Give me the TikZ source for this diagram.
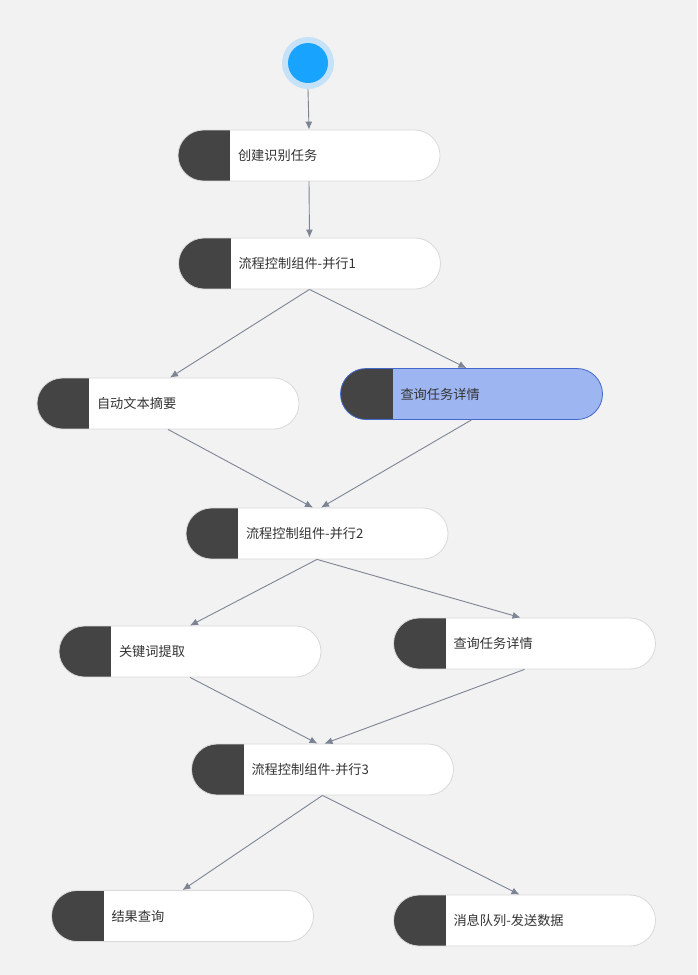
\documentclass[tikz,border=0pt]{standalone}
\usepackage{fontspec}
\newfontfamily\cjk{Noto Sans CJK SC}
\usetikzlibrary{arrows.meta}
\definecolor{bgc}{HTML}{F2F2F2}
\definecolor{darkc}{HTML}{444444}
\definecolor{borderc}{HTML}{D9D9D9}
\definecolor{edgec}{HTML}{7D8494}
\definecolor{bluefill}{HTML}{9DB5F0}
\definecolor{blueborder}{HTML}{4468CC}
\definecolor{startout}{HTML}{C6E2F8}
\definecolor{startin}{HTML}{18A3FF}
\definecolor{textc}{HTML}{333333}
\tikzset{
  stepbox/.style={draw=borderc, line width=0.8pt, fill=white, rounded corners=25.5pt,
    minimum width=262pt, minimum height=51pt, text width=142pt, align=left,
    inner xsep=0pt, inner ysep=0pt, text=textc,
    font=\cjk\fontsize{13.2}{15}\selectfont,
    path picture={\fill[darkc, sharp corners] (path picture bounding box.south west) rectangle ([xshift=52pt]path picture bounding box.north west);}},
  bluebox/.style={stepbox, draw=blueborder, fill=bluefill},
  flow/.style={draw=edgec, line width=0.9pt, -{Latex[length=8pt,width=7pt]}},
}
\begin{document}
\begin{tikzpicture}[x=1pt,y=-1pt]
\fill[bgc] (0,0) rectangle (697,975);
\useasboundingbox (0,0) rectangle (697,975);
\node[circle, fill=startout, minimum size=52pt, inner sep=0pt] (start) at (308,63) {};
\node[circle, fill=startin, minimum size=40pt, inner sep=0pt] at (start) {};
\node[stepbox] (n1) at (309,155.5) {创建识别任务};
\node[stepbox] (n2) at (309.5,263.5) {流程控制组件-并行1};
\node[stepbox] (n3) at (168,403.5) {自动文本摘要};
\node[bluebox] (n4) at (471.5,394) {查询任务详情};
\node[stepbox] (n5) at (317,533.5) {流程控制组件-并行2};
\node[stepbox] (n6) at (190,651.5) {关键词提取};
\node[stepbox] (n7) at (524.5,643.5) {查询任务详情};
\node[stepbox] (n8) at (322.5,769.5) {流程控制组件-并行3};
\node[stepbox] (n9) at (182.5,916) {结果查询};
\node[stepbox] (n10) at (524.5,920.5) {消息队列-发送数据};
\draw[flow] (start.south) -- (n1.north);
\draw[flow] (n1.south) -- (n2.north);
\draw[flow] (n2.south) -- ([xshift=2pt]n3.north);
\draw[flow] (n2.south) -- ([xshift=-5pt]n4.north);
\draw[flow] (n3.south) -- ([xshift=-4pt]n5.north);
\draw[flow] (n4.south) -- ([xshift=4pt]n5.north);
\draw[flow] (n5.south) -- (n6.north);
\draw[flow] (n5.south) -- ([xshift=-4pt]n7.north);
\draw[flow] (n6.south) -- ([xshift=-5pt]n8.north);
\draw[flow] (n7.south) -- ([xshift=2pt]n8.north);
\draw[flow] (n8.south) -- (n9.north);
\draw[flow] (n8.south) -- ([xshift=-5pt]n10.north);
\end{tikzpicture}
\end{document}
